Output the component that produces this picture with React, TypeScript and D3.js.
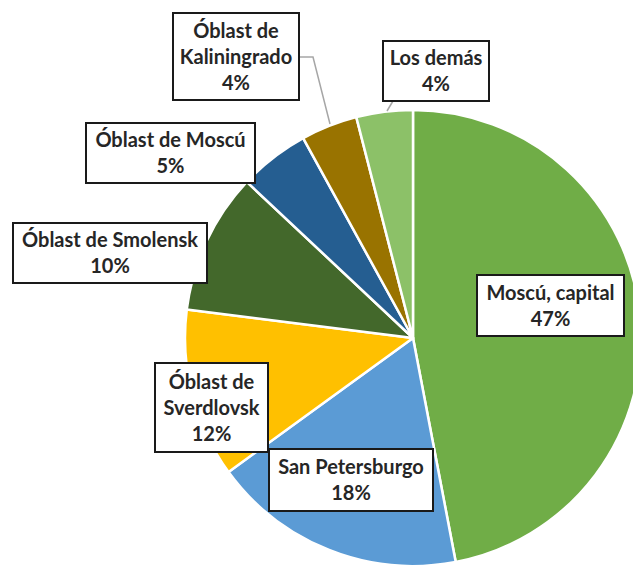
import { useEffect, useRef } from 'react'
import * as d3 from 'd3'

const regions = ['Moscú, capital', 'San Petersburgo', 'Óblast de Sverdlovsk', 'Óblast de Smolensk', 'Óblast de Moscú', 'Óblast de Kaliningrado', 'Los demás']
const shares = [47, 18, 12, 10, 5, 4, 4]
const colors = ['#70ad47', '#5b9bd5', '#ffc000', '#43682b', '#255e91', '#997300', '#8cc168']

// label boxes: [x, y, w, h], text lines
const labelBoxes = [
  { box: [477, 275, 147, 61], lines: ['Moscú, capital', '47%'] },
  { box: [269, 449, 164, 62], lines: ['San Petersburgo', '18%'] },
  { box: [155, 363, 113, 89], lines: ['Óblast de', 'Sverdlovsk', '12%'] },
  { box: [13, 223, 194, 60], lines: ['Óblast de Smolensk', '10%'] },
  { box: [86, 123, 169, 60], lines: ['Óblast de Moscú', '5%'] },
  { box: [173, 13, 126, 87], lines: ['Óblast de', 'Kaliningrado', '4%'] },
  { box: [383, 41, 106, 60], lines: ['Los demás', '4%'] },
]
const leaders: Record<number, [number, number][]> = {
  5: [[299, 57], [313, 57], [330, 124]],
  6: [[393, 101], [387, 111]],
}

const W = 633
const H = 567

export default function App() {
  const ref = useRef<SVGSVGElement>(null)
  useEffect(() => {
    const svg = d3.select(ref.current)
    svg.selectAll('*').remove()
    const cx = 413, cy = 338, radius = 228

    const pie = d3.pie<number>().sort(null).value(d => d)
    const arcs = pie(shares)
    const arc = d3.arc<d3.PieArcDatum<number>>().innerRadius(0).outerRadius(radius)

    const g = svg.append('g').attr('transform', `translate(${cx},${cy})`)
    g.selectAll('path')
      .data(arcs)
      .join('path')
      .attr('d', arc)
      .attr('fill', (_, i) => colors[i])
      .attr('stroke', '#fff')
      .attr('stroke-width', 2.5)
      .attr('stroke-linejoin', 'round')

    const line = d3.line()
    Object.entries(leaders).forEach(([, pts]) => {
      svg.append('path')
        .attr('d', line(pts))
        .attr('fill', 'none')
        .attr('stroke', '#a6a6a6')
        .attr('stroke-width', 1.5)
    })

    labelBoxes.forEach((lb, i) => {
      const [x, y, w, h] = lb.box
      const lg = svg.append('g').attr('data-region', regions[i])
      lg.append('rect')
        .attr('x', x).attr('y', y).attr('width', w).attr('height', h)
        .attr('fill', '#fff')
        .attr('stroke', '#1a1a1a')
        .attr('stroke-width', 2)
      const lh = 26
      const top = y + h / 2 - ((lb.lines.length - 1) * lh) / 2
      lb.lines.forEach((t, j) => {
        lg.append('text')
          .attr('x', x + w / 2)
          .attr('y', top + j * lh)
          .attr('dy', '0.36em')
          .attr('text-anchor', 'middle')
          .style('font-family', 'Lato, "Open Sans", sans-serif')
          .style('font-weight', 700)
          .style('font-size', '20px')
          .style('fill', '#262626')
          .text(t)
      })
    })
  }, [])

  return (
    <svg ref={ref} width={W} height={H} style={{ position: 'absolute', left: 0, top: 0, display: 'block' }} />
  )
}
